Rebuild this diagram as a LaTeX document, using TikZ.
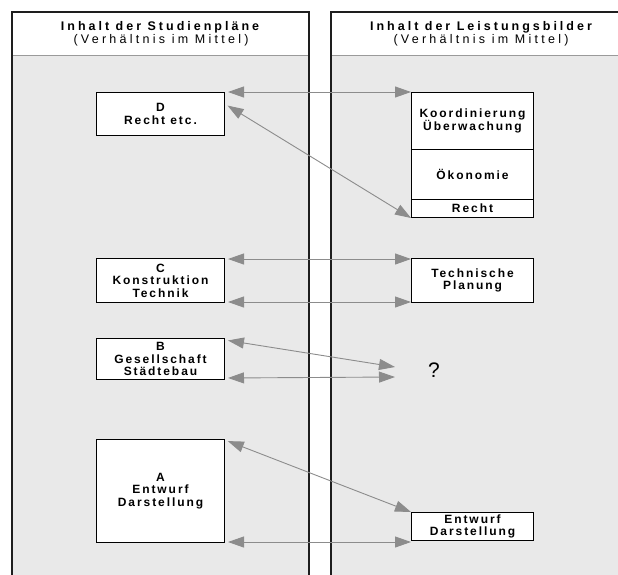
\documentclass[tikz,border=0pt]{standalone}
\usepackage{fontspec}
\setmainfont{Liberation Sans}
\newfontfamily\boxfont[LetterSpace=16]{Liberation Sans Bold}
\newfontfamily\headfont[LetterSpace=24]{Liberation Sans Bold}
\newfontfamily\subfont[LetterSpace=26]{Liberation Sans}
\usetikzlibrary{arrows.meta}
\definecolor{panelgray}{HTML}{E9E9E9}
\definecolor{arrowgray}{HTML}{8C8C8C}
\definecolor{divgray}{HTML}{9A9A9A}
\definecolor{bordercol}{HTML}{1E1E1E}
\begin{document}
\begin{tikzpicture}[x=1pt,y=-1pt,
  box/.style={draw=black,line width=1pt,fill=white,inner sep=0pt,anchor=north west,
    align=center,font=\boxfont\fontsize{12}{12.5}\selectfont},
  link/.style={draw=arrowgray,line width=0.9pt,
    {Triangle[length=16pt,width=11pt,fill=arrowgray]}-{Triangle[length=16pt,width=11pt,fill=arrowgray]}},
  headtitle/.style={font=\headfont\fontsize{12.5}{13}\selectfont,inner sep=0pt},
  headsub/.style={font=\subfont\fontsize{12.5}{13}\selectfont,inner sep=0pt}]
\useasboundingbox (0,0) rectangle (618,574);
\clip (0,0) rectangle (618,574);
% panels
\fill[panelgray] (12,55) rectangle (309,580);
\fill[panelgray] (331,55) rectangle (628,580);
\draw[divgray,line width=1pt] (12,55) -- (309,55);
\draw[divgray,line width=1pt] (331,55) -- (628,55);
\draw[bordercol,line width=1.4pt] (12,580) -- (12,12) -- (309,12) -- (309,580);
\draw[bordercol,line width=1.4pt] (331,580) -- (331,12) -- (628,12);
% headers
\node[headtitle] (h1) at (160,27) {Inhalt der Studienpläne};
\node[headsub] (h1s) at (161,40) {(Verhältnis im Mittel)};
\node[headtitle] (h2) at (481,27) {Inhalt der Leistungsbilder};
\node[headsub] (h2s) at (481,40) {(Verhältnis im Mittel)};
% left boxes
\node[box,minimum width=128pt,minimum height=43pt] (D) at (96,92) {D\\Recht etc.};
\node[box,minimum width=128pt,minimum height=44pt] (C) at (96,258) {C\\Konstruktion\\Technik};
\node[box,minimum width=128pt,minimum height=41pt] (B) at (96,338) {B\\Gesellschaft\\Städtebau};
\node[box,minimum width=128pt,minimum height=103pt] (A) at (96,439) {A\\Entwurf\\Darstellung};
% right boxes
\node[box,minimum width=122pt,minimum height=57pt] (K) at (411,92) {Koordinierung\\Überwachung};
\node[box,minimum width=122pt,minimum height=50pt] (O) at (411,149) {Ökonomie};
\node[box,minimum width=122pt,minimum height=18pt] (R) at (411,199) {Recht};
\node[box,minimum width=122pt,minimum height=44pt] (T) at (411,258) {Technische\\Planung};
\node[box,minimum width=122pt,minimum height=28pt] (E) at (411,512) {Entwurf\\Darstellung};
% question mark
\node[font=\fontsize{21}{22}\selectfont,inner sep=0pt] (q) at (434,370) {?};
\coordinate (q1) at (395,367);
\coordinate (q2) at (395,377);
% links
\draw[link,shorten <=3pt] (D.north east) -- (K.north west);
\draw[link,shorten <=3pt] ([yshift=-12pt]D.north east) -- (R.south west);
\draw[link,shorten <=3pt] ([yshift=-1pt]C.north east) -- ([yshift=-1pt]T.north west);
\draw[link,shorten <=3pt] ([yshift=1pt]C.south east) -- ([yshift=1pt]T.south west);
\draw[link,shorten <=3pt] ([yshift=-2pt]B.north east) -- (q1);
\draw[link,shorten <=3pt] ([yshift=2pt]B.south east) -- (q2);
\draw[link,shorten <=3pt] ([yshift=-1pt]A.north east) -- (E.north west);
\draw[link,shorten <=3pt] ([yshift=1pt]A.south east) -- ([yshift=-1pt]E.south west);
\end{tikzpicture}
\end{document}
